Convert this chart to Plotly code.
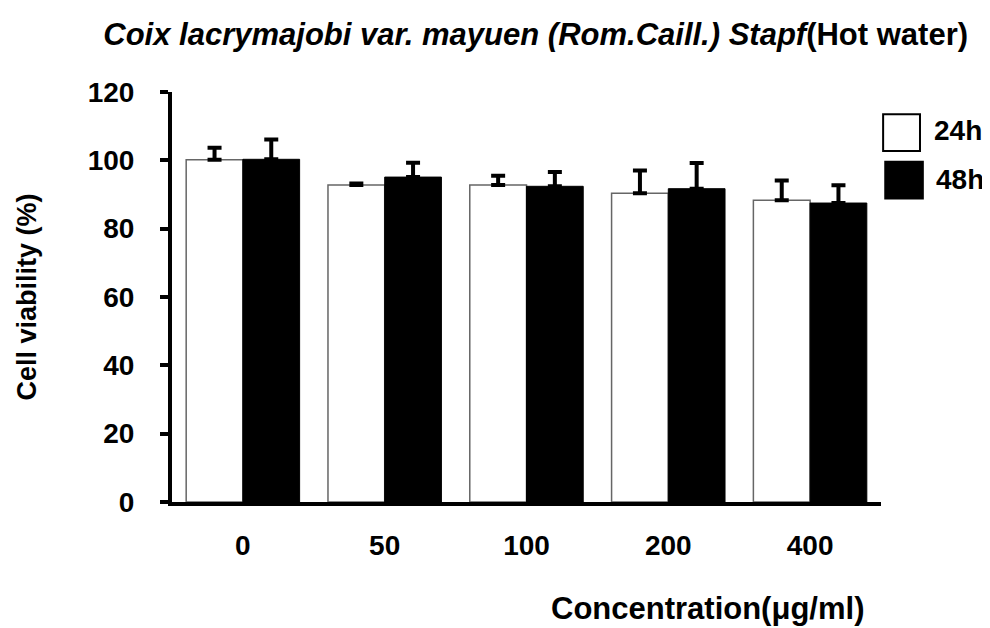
import plotly.graph_objects as go

categories = ["0", "50", "100", "200", "400"]
viability_24h = [100.2, 92.8, 92.8, 90.4, 88.3]
error_24h = [3.5, 0.4, 2.7, 6.6, 5.8]
viability_48h = [100.3, 95.1, 92.4, 91.7, 87.5]
error_48h = [5.8, 4.2, 4.2, 7.5, 5.2]
series_names = ["24h", "48h"]
y_ticks = [0, 20, 40, 60, 80, 100, 120]

SANS = "Liberation Sans, Arial, sans-serif"
TICK_FONT = dict(family=SANS, size=28, color="black", weight="bold")

fig = go.Figure()
fig.add_trace(go.Bar(
    x=categories, y=viability_24h, name=series_names[0],
    marker=dict(color="white", line=dict(color="#666666", width=1.5)),
    error_y=dict(type="data", array=error_24h, arrayminus=[0] * len(error_24h),
                 symmetric=False, thickness=4, width=7, color="black"),
    showlegend=False,
))
fig.add_trace(go.Bar(
    x=categories, y=viability_48h, name=series_names[1],
    marker=dict(color="black", line=dict(color="black", width=1)),
    error_y=dict(type="data", array=error_48h, arrayminus=[0] * len(error_48h),
                 symmetric=False, thickness=4, width=7, color="black"),
    showlegend=False,
))

# legend drawn as boxes + labels (paper coordinates)
fig.add_shape(type="rect", xref="paper", yref="paper",
              x0=1.003, x1=1.055, y0=0.856, y1=0.946,
              fillcolor="white", line=dict(color="black", width=2))
fig.add_shape(type="rect", xref="paper", yref="paper",
              x0=1.006, x1=1.059, y0=0.740, y1=0.830,
              fillcolor="black", line=dict(color="black", width=2))
fig.add_annotation(xref="paper", yref="paper", x=1.072, y=0.906,
                   xanchor="left", yanchor="middle", showarrow=False,
                   text=series_names[0],
                   font=dict(family=SANS, size=28, color="black", weight="bold"))
fig.add_annotation(xref="paper", yref="paper", x=1.075, y=0.786,
                   xanchor="left", yanchor="middle", showarrow=False,
                   text=series_names[1],
                   font=dict(family=SANS, size=28, color="black", weight="bold"))

# x-axis title (right-shifted as in the reference)
fig.add_annotation(xref="paper", yref="paper", x=0.979, y=-0.26,
                   xanchor="right", yanchor="middle", showarrow=False,
                   text="Concentration(μg/ml)",
                   font=dict(family=SANS, size=31, color="black", weight="bold"))

fig.update_layout(
    width=990, height=628,
    margin=dict(l=164, r=117, t=84, b=134, autoexpand=False),
    paper_bgcolor="white", plot_bgcolor="white",
    barmode="group", bargap=0.2, bargroupgap=0,
    title=dict(
        text="<i>Coix lacrymajobi var. mayuen (Rom.Caill.) Stapf</i>(Hot water)",
        x=0.533, xanchor="center", y=0.958, yanchor="middle",
        font=dict(family=SANS, size=31, color="black", weight="bold"),
    ),
    xaxis=dict(
        type="category", range=[-0.5, 4.5], automargin=False,
        showline=True, linewidth=4, linecolor="black",
        ticks="", showgrid=False, zeroline=False,
        tickfont=TICK_FONT, ticklabelstandoff=15,
    ),
    yaxis=dict(
        range=[0, 120], tickvals=y_ticks, automargin=False,
        showline=True, linewidth=4, linecolor="black",
        ticks="outside", ticklen=8, tickwidth=4, tickcolor="black",
        showgrid=False, zeroline=False,
        tickfont=TICK_FONT, ticklabelstandoff=20,
        title=dict(text="Cell viability (%)", standoff=44,
                   font=dict(family=SANS, size=27, color="black", weight="bold")),
    ),
)

fig.write_html("out.html")
